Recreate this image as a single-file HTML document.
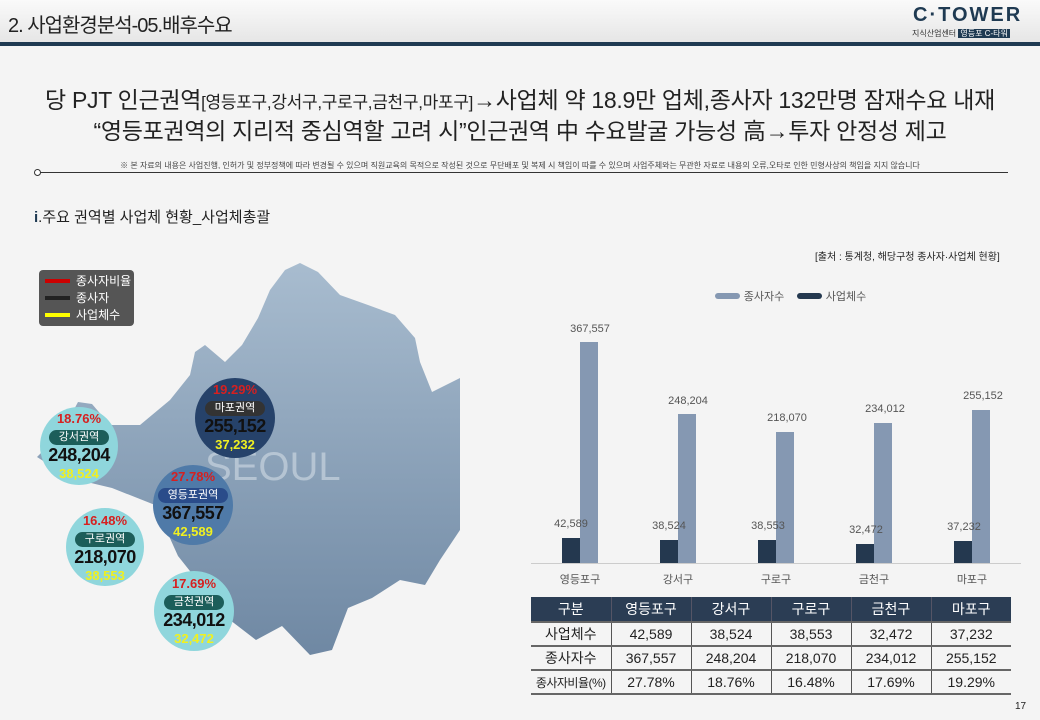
<!DOCTYPE html>
<html><head><meta charset="utf-8"><style>
*{margin:0;padding:0;box-sizing:border-box}
body{width:1040px;height:720px;overflow:hidden;background:#f4f4f4;font-family:"Liberation Sans","Noto Sans CJK KR",sans-serif;position:relative;color:#222}
.abs{position:absolute}
.hdr{left:0;top:0;width:1040px;height:42px;background:linear-gradient(#fafafa,#e6e6e6)}
.hline{left:0;top:42px;width:1040px;height:4px;background:#1f3a52}
table{border-collapse:collapse;position:absolute;left:531px;top:597px;width:480px;font-size:14px;text-align:center;table-layout:fixed}
td,th{width:80px;border-left:1px solid #555;white-space:nowrap;overflow:hidden}
td:first-child,th:first-child{border-left:none}
th{background:#2b3d54;color:#fff;font-weight:normal;height:25px;border-left:1px solid #556}
td{height:24px;border-top:2px solid #666}
tr:last-child td{border-bottom:2px solid #666}
.bub{position:absolute;border-radius:50%;text-align:center;font-weight:bold}
.bub .p{color:#d62020;font-size:13px;line-height:16px}
.bub .n{font-size:18px;color:#111;line-height:21px;letter-spacing:-0.5px}
.bub .y{color:#f0f020;font-size:13px;line-height:16px}
.bub .t{display:inline-block;background:#1c5e5a;color:#fff;border-radius:8px;font-size:11px;padding:0 10px;font-weight:normal;line-height:15px}
</style></head><body>
<div class="abs hdr"></div><div class="abs hline"></div>
<div class="abs" style="left:8px;top:9px;font-size:20px;color:#222;letter-spacing:-1px">2. 사업환경분석-05.배후수요</div>
<div class="abs" style="left:913px;top:4px;font-size:20px;font-weight:bold;color:#1f3a52;letter-spacing:2px">C·TOWER</div>
<div class="abs" style="left:912px;top:28px;font-size:8px;color:#333">지식산업센터 <span style="background:#1f3a52;color:#fff;padding:0 2px">영등포 C-타워</span></div>
<div class="abs" style="left:0;top:86px;width:1040px;text-align:center;font-size:23px;line-height:28px;color:#222;letter-spacing:-0.3px">당 PJT 인근권역<span style="font-size:17px">[영등포구,강서구,구로구,금천구,마포구]</span>→사업체 약 18.9만 업체,종사자 132만명 잠재수요 내재<br>“영등포권역의 지리적 중심역할 고려 시”인근권역 中 수요발굴 가능성 高→투자 안정성 제고</div>
<div class="abs" style="left:0;top:160px;width:1040px;text-align:center;font-size:8px;color:#444">※ 본 자료의 내용은 사업진행, 인허가 및 정부정책에 따라 변경될 수 있으며 직원교육의 목적으로 작성된 것으로 무단배포 및 복제 시 책임이 따를 수 있으며 사업주체와는 무관한 자료로 내용의 오류,오타로 인한 민형사상의 책임을 지지 않습니다</div>
<div class="abs" style="left:38px;top:172px;width:970px;height:1px;background:#333"></div>
<div class="abs" style="left:34px;top:169px;width:7px;height:7px;border:1px solid #333;border-radius:50%;background:#fff"></div>
<div class="abs" style="left:34px;top:206px;font-size:15px"><b style="color:#1f3a52">i</b>.주요 권역별 사업체 현황_사업체총괄</div>
<div class="abs" style="left:815px;top:248px;font-size:10px">[출처 : 통계청, 해당구청 종사자·사업체 현황]</div>
<svg class="abs" style="left:0;top:0" width="1040" height="720">
<defs><linearGradient id="g" x1="0" y1="0" x2="0" y2="1"><stop offset="0" stop-color="#a8bccf"/><stop offset="1" stop-color="#6f88a3"/></linearGradient></defs>
<polygon fill="url(#g)" points="37,457 62,432 78,402 92,404 110,425 140,425 170,400 190,375 195,352 205,345 225,362 242,345 258,318 270,290 285,270 300,263 318,272 340,295 368,305 395,315 415,338 420,362 432,392 460,378 460,530 440,560 425,585 400,580 372,598 348,608 332,650 310,655 282,626 256,640 230,620 205,590 178,556 155,505 112,488 70,478"/>
<text x="205" y="480" font-size="40" fill="#c8d4df" opacity="0.7" font-family="Liberation Sans">SEOUL</text>
<g font-size="11" fill="#555" text-anchor="middle">
<rect x="562" y="538" width="18" height="25" fill="#24384f"/><rect x="580" y="342" width="18" height="221" fill="#8598b2"/>
<rect x="660" y="540" width="18" height="23" fill="#24384f"/><rect x="678" y="414" width="18" height="149" fill="#8598b2"/>
<rect x="758" y="540" width="18" height="23" fill="#24384f"/><rect x="776" y="432" width="18" height="131" fill="#8598b2"/>
<rect x="856" y="544" width="18" height="19" fill="#24384f"/><rect x="874" y="423" width="18" height="140" fill="#8598b2"/>
<rect x="954" y="541" width="18" height="22" fill="#24384f"/><rect x="972" y="410" width="18" height="153" fill="#8598b2"/>
<line x1="531" y1="563.5" x2="1021" y2="563.5" stroke="#ccc"/>
<text x="590" y="332">367,557</text><text x="571" y="527">42,589</text>
<text x="688" y="404">248,204</text><text x="669" y="529">38,524</text>
<text x="787" y="421">218,070</text><text x="768" y="529">38,553</text>
<text x="885" y="412">234,012</text><text x="866" y="533">32,472</text>
<text x="983" y="399">255,152</text><text x="964" y="530">37,232</text>
<text x="580" y="583">영등포구</text><text x="678" y="583">강서구</text><text x="776" y="583">구로구</text><text x="874" y="583">금천구</text><text x="972" y="583">마포구</text>
<rect x="715" y="293" width="25" height="6" rx="3" fill="#8598b2"/><text x="764" y="300">종사자수</text>
<rect x="797" y="293" width="25" height="6" rx="3" fill="#24384f"/><text x="846" y="300">사업체수</text>
</g>
<rect x="39" y="270" width="95" height="56" rx="4" fill="#555"/>
<g stroke-width="4"><line x1="45" y1="281" x2="70" y2="281" stroke="#c00"/><line x1="45" y1="298" x2="70" y2="298" stroke="#222"/><line x1="45" y1="315" x2="70" y2="315" stroke="#ff0"/></g>
<g fill="#fff" font-size="12"><text x="76" y="285">종사자비율</text><text x="76" y="302">종사자</text><text x="76" y="319">사업체수</text></g>
</svg>
<div class="bub" style="left:195px;top:378px;width:80px;height:80px;background:#26426a;padding-top:4px"><div class="p">19.29%</div><div class="t" style="background:#333">마포권역</div><div class="n" style="color:#111">255,152</div><div class="y">37,232</div></div>
<div class="bub" style="left:40px;top:407px;width:78px;height:78px;background:#8fd6dc;padding-top:4px"><div class="p">18.76%</div><div class="t">강서권역</div><div class="n">248,204</div><div class="y">38,524</div></div>
<div class="bub" style="left:153px;top:465px;width:80px;height:80px;background:#4f7aa8;padding-top:4px"><div class="p">27.78%</div><div class="t" style="background:#2a4c8a">영등포권역</div><div class="n">367,557</div><div class="y">42,589</div></div>
<div class="bub" style="left:66px;top:508px;width:78px;height:78px;background:#8fd6dc;padding-top:5px"><div class="p">16.48%</div><div class="t">구로권역</div><div class="n">218,070</div><div class="y">38,553</div></div>
<div class="bub" style="left:154px;top:571px;width:80px;height:80px;background:#8fd6dc;padding-top:5px"><div class="p">17.69%</div><div class="t">금천권역</div><div class="n">234,012</div><div class="y">32,472</div></div>
<table>
<tr><th>구분</th><th>영등포구</th><th>강서구</th><th>구로구</th><th>금천구</th><th>마포구</th></tr>
<tr><td>사업체수</td><td>42,589</td><td>38,524</td><td>38,553</td><td>32,472</td><td>37,232</td></tr>
<tr><td>종사자수</td><td>367,557</td><td>248,204</td><td>218,070</td><td>234,012</td><td>255,152</td></tr>
<tr><td style="font-size:12px;letter-spacing:-0.5px">종사자비율(%)</td><td>27.78%</td><td>18.76%</td><td>16.48%</td><td>17.69%</td><td>19.29%</td></tr>
</table>
<div class="abs" style="left:1015px;top:701px;font-size:10px">17</div>
</body></html>
